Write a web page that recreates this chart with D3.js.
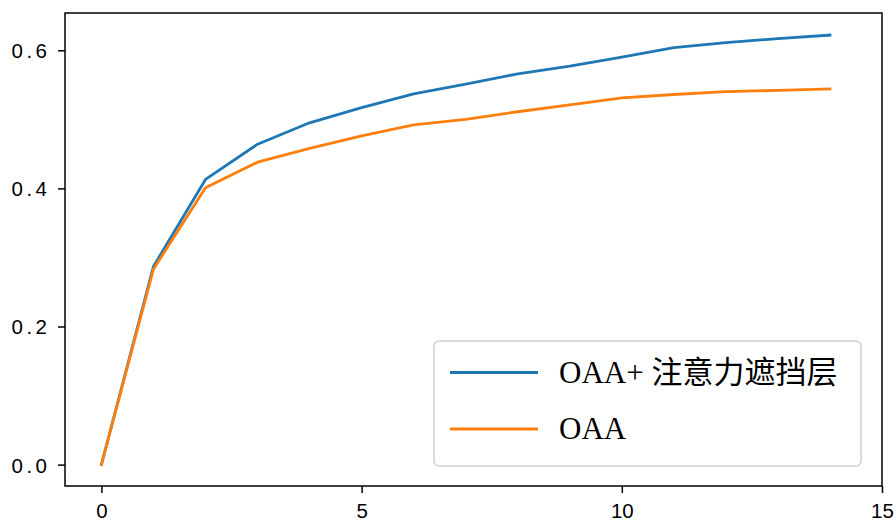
<!DOCTYPE html>
<html>
<head>
<meta charset="utf-8">
<script src="https://cdn.jsdelivr.net/npm/d3@7"></script>
<style>
  html, body { margin: 0; padding: 0; background: #fff; }
</style>
</head>
<body>
<script>
// epochs along x, the two curves
const epochs = [0, 1, 2, 3, 4, 5, 6, 7, 8, 9, 10, 11, 12, 13, 14];
const oaaMask = [0.0, 0.287, 0.413, 0.464, 0.495, 0.517, 0.537, 0.551, 0.566, 0.577, 0.590, 0.604, 0.611, 0.617, 0.622];
const oaa     = [0.0, 0.283, 0.401, 0.438, 0.458, 0.476, 0.492, 0.500, 0.511, 0.521, 0.531, 0.536, 0.540, 0.542, 0.544];
const seriesNames = ['OAA+ 注意力遮挡层', 'OAA'];
const seriesColors = ['#1f77b4', '#ff7f0e'];
const xTicks = [0, 5, 10, 15];
const yTicks = [0.0, 0.2, 0.4, 0.6];

const W = 896, H = 521;
const mLeft = 65, mRight = 882, mTop = 13, mBottom = 486;

const svg = d3.select('body').append('svg')
  .attr('width', W)
  .attr('height', H);

const x = d3.scaleLinear().domain([-0.7, 15]).range([mLeft, mRight]);
const y = d3.scaleLinear().domain([-0.031, 0.654]).range([mBottom, mTop]);

// lines
const line = d3.line()
  .x((d, i) => x(epochs[i]))
  .y(d => y(d));

[oaaMask, oaa].forEach((vals, k) => {
  svg.append('path')
    .datum(vals)
    .attr('d', line)
    .attr('fill', 'none')
    .attr('stroke', seriesColors[k])
    .attr('stroke-width', 2.8)
    .attr('stroke-linejoin', 'round')
    .attr('stroke-linecap', 'square');
});

// axes
const xAxis = svg.append('g')
  .attr('transform', `translate(0,${mBottom})`)
  .call(d3.axisBottom(x).tickValues(xTicks).tickSize(7).tickSizeOuter(0).tickFormat(d3.format('d')));
xAxis.select('.domain').remove();
xAxis.selectAll('line').attr('stroke', '#000').attr('stroke-width', 1.5);
xAxis.selectAll('text')
  .attr('y', 31.5).attr('dy', 0)
  .attr('fill', '#000')
  .style('font-family', '"Liberation Sans", Arial, sans-serif')
  .style('font-size', '20.5px');

const yAxis = svg.append('g')
  .attr('transform', `translate(${mLeft},0)`)
  .call(d3.axisLeft(y).tickValues(yTicks).tickSize(7).tickSizeOuter(0).tickFormat(d3.format('.1f')));
yAxis.select('.domain').remove();
yAxis.selectAll('line').attr('stroke', '#000').attr('stroke-width', 1.5);
yAxis.selectAll('text')
  .attr('x', -14.7).attr('dy', 7.5)
  .attr('fill', '#000')
  .style('font-family', '"Liberation Sans", Arial, sans-serif')
  .style('font-size', '20.5px')
  .style('letter-spacing', '3.4px');

// frame
svg.append('rect')
  .attr('x', mLeft).attr('y', mTop)
  .attr('width', mRight - mLeft).attr('height', mBottom - mTop)
  .attr('fill', 'none')
  .attr('stroke', '#000')
  .attr('stroke-width', 1.5);

// legend
const lg = svg.append('g');
lg.append('rect')
  .attr('x', 434).attr('y', 341)
  .attr('width', 427).attr('height', 125)
  .attr('rx', 5)
  .attr('fill', 'rgba(255,255,255,0.8)')
  .attr('stroke', '#d0d0d0')
  .attr('stroke-width', 1.5);

const rowY = [372.5, 429];
seriesNames.forEach((name, k) => {
  lg.append('line')
    .attr('x1', 450).attr('x2', 538)
    .attr('y1', rowY[k]).attr('y2', rowY[k])
    .attr('stroke', seriesColors[k])
    .attr('stroke-width', 2.8);
  lg.append('text')
    .attr('x', 559).attr('y', rowY[k] + 10)
    .attr('fill', '#000')
    .style('font-family', '"Liberation Serif", "Noto Sans CJK SC", serif')
    .style('font-size', '31px')
    .text(name);
});
</script>
</body>
</html>
